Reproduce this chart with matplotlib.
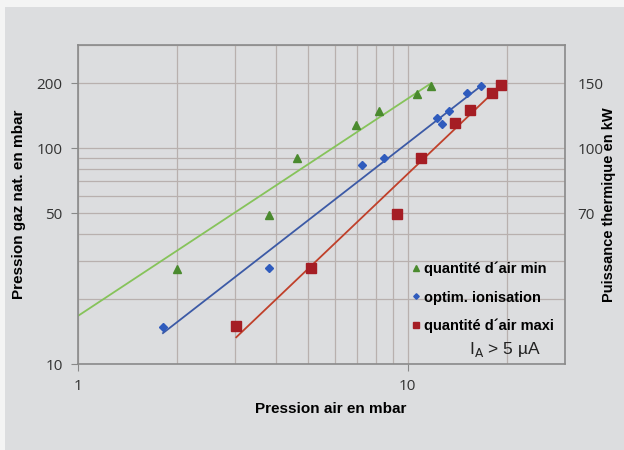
import matplotlib
matplotlib.use("Agg")
import matplotlib.pyplot as plt
from matplotlib.patches import Rectangle
from matplotlib.ticker import FixedLocator, NullFormatter, LogLocator, NullLocator

# Data
min_x = [2.0, 3.8, 4.63, 6.95, 8.2, 10.7, 11.8]
min_y = [27.5, 49, 90, 128, 148, 178, 194]
opt_x = [1.81, 3.8, 7.25, 8.45, 12.3, 12.7, 13.3, 15.1, 16.7]
opt_y = [14.8, 27.8, 83.4, 90, 138, 129, 148, 180, 194]
max_x = [3.02, 5.1, 9.3, 11.0, 13.9, 15.4, 18.0, 19.2]
max_y = [15.0, 27.8, 49.5, 90, 130, 150, 180, 196]
trend_min_x = [1.0, 11.8]
trend_min_y = [16.7, 200]
trend_opt_x = [1.81, 16.7]
trend_opt_y = [13.9, 194]
trend_max_x = [3.02, 19.2]
trend_max_y = [13.3, 196]
left_ticks = [10, 50, 100, 200]
right_tick_pos = [50, 100, 200]
right_tick_labels = ["70", "100", "150"]
legend_labels = ["quantité d´air min", "optim. ionisation", "quantité d´air maxi"]

bg = "#dcdddf"
grid_c = "#b8b0ae"
fig = plt.figure(figsize=(6.24, 4.5), dpi=100, facecolor="#f4f4f4")
fig.patches.append(Rectangle((5/624, 0), 1, (450-7)/450, transform=fig.transFigure,
                             facecolor=bg, edgecolor="none", zorder=-10))
ax = fig.add_axes([78/624, 1-364/450, (565-78)/624, (364-45)/450])
ax.set_facecolor(bg)
ax.set_xscale("log")
ax.set_yscale("log")
ax.set_xlim(1, 30)
ax.set_ylim(10, 300)

ax.xaxis.set_major_locator(FixedLocator([1, 10]))
ax.xaxis.set_minor_locator(LogLocator(base=10, subs=range(2, 10)))
ax.xaxis.set_minor_formatter(NullFormatter())
ax.set_xticklabels(["1", "10"])
ax.yaxis.set_major_locator(FixedLocator(left_ticks))
ax.yaxis.set_minor_locator(LogLocator(base=10, subs=range(2, 10)))
ax.yaxis.set_minor_formatter(NullFormatter())
ax.set_yticklabels([str(t) for t in left_ticks])
ax.grid(True, which="both", color=grid_c, lw=0.9)
ax.set_axisbelow(True)
ax.tick_params(which="major", direction="out", length=5, color="#888888",
               labelsize=11, labelcolor="#333333", pad=6)
ax.tick_params(which="minor", length=0)
for s in ax.spines.values():
    s.set_color("#8a8a8a")
    s.set_linewidth(1.2)
for lab in ax.get_xticklabels() + ax.get_yticklabels():
    lab.set_family("Open Sans")

ax.plot(trend_min_x, trend_min_y, color="#86c35a", lw=1.3)
ax.plot(trend_opt_x, trend_opt_y, color="#3c5aa6", lw=1.3)
ax.plot(trend_max_x, trend_max_y, color="#c0402a", lw=1.3)
ax.plot(min_x, min_y, "^", color="#4a8a2e", ms=6, ls="none", label=legend_labels[0])
ax.plot(opt_x, opt_y, "D", color="#2f5bbd", ms=4, ls="none", label=legend_labels[1])
ax.plot(max_x, max_y, "s", color="#a51d24", ms=7, ls="none", label=legend_labels[2])

leg = ax.legend(loc="lower right", bbox_to_anchor=(1.005, 0.055), frameon=False,
                prop={"family": "Liberation Sans", "weight": "bold", "size": 10.5},
                handletextpad=0.15, handlelength=0.9, labelspacing=0.98, markerscale=0.7)
ax.text(0.95, 0.015, r"I$_\mathrm{A}$ > 5 µA", transform=ax.transAxes, ha="right",
        va="bottom", fontsize=12.5, family="Liberation Sans", color="#222222")

ax.set_xlabel("Pression air en mbar", fontsize=11, fontweight="bold",
              family="Liberation Sans")
ax.xaxis.set_label_coords(0.519, -0.12)
ax.set_ylabel("Pression gaz nat. en mbar", fontsize=11, fontweight="bold",
              family="Liberation Sans", labelpad=8)

ax2 = ax.twinx()
ax2.set_yscale("log")
ax2.set_ylim(10, 300)
ax2.yaxis.set_major_locator(FixedLocator(right_tick_pos))
ax2.yaxis.set_minor_locator(NullLocator())
ax2.set_yticklabels(right_tick_labels)
ax2.tick_params(which="major", length=0, labelsize=11, labelcolor="#333333", pad=9)
for lab in ax2.get_yticklabels():
    lab.set_family("Open Sans")
for s in ax2.spines.values():
    s.set_visible(False)
ax2.set_ylabel("Puissance thermique en kW", fontsize=10.5, fontweight="bold",
               family="Liberation Sans", rotation=90, va="center")
ax2.yaxis.set_label_coords(1.09, 0.5)

fig.savefig("out.png", dpi=100, facecolor=fig.get_facecolor())
